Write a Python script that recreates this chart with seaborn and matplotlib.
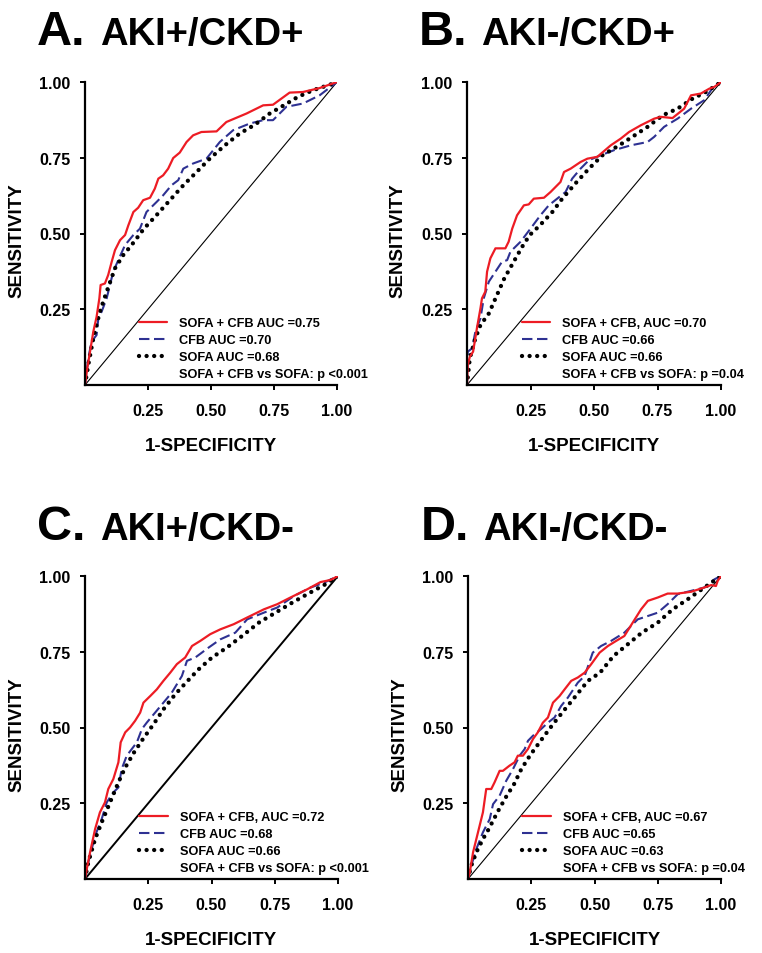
import numpy as np
import pandas as pd
import matplotlib
matplotlib.use("Agg")
import matplotlib.pyplot as plt
from matplotlib.lines import Line2D
import seaborn as sns

# ---- data (x = 1-specificity, y = sensitivity) ----
titles = ["AKI+/CKD+", "AKI-/CKD+", "AKI+/CKD-", "AKI-/CKD-"]
letters = ["A.", "B.", "C.", "D."]

a_red_x = [0, 0.009, 0.020, 0.033, 0.046, 0.057, 0.062, 0.079, 0.092, 0.106, 0.119, 0.139, 0.159, 0.172,
           0.192, 0.211, 0.231, 0.258, 0.277, 0.291, 0.310, 0.330, 0.350, 0.376, 0.403, 0.429, 0.462,
           0.522, 0.561, 0.641, 0.707, 0.746, 0.812, 0.865, 0.931, 1]
a_red_y = [0, 0.055, 0.110, 0.176, 0.225, 0.286, 0.330, 0.335, 0.363, 0.407, 0.445, 0.478, 0.495, 0.527,
           0.571, 0.585, 0.610, 0.618, 0.648, 0.681, 0.692, 0.714, 0.749, 0.767, 0.802, 0.824, 0.835,
           0.837, 0.868, 0.896, 0.923, 0.925, 0.965, 0.967, 0.980, 1]
a_blue_x = [0, 0.013, 0.026, 0.046, 0.053, 0.066, 0.086, 0.112, 0.132, 0.159, 0.192, 0.218, 0.244, 0.284,
            0.310, 0.343, 0.370, 0.390, 0.429, 0.482, 0.535, 0.588, 0.654, 0.707, 0.746, 0.799, 0.865,
            0.931, 1]
a_blue_y = [0, 0.088, 0.143, 0.165, 0.220, 0.242, 0.286, 0.374, 0.412, 0.462, 0.495, 0.516, 0.571, 0.604,
            0.626, 0.659, 0.676, 0.714, 0.731, 0.747, 0.802, 0.841, 0.863, 0.874, 0.874, 0.918, 0.929,
            0.956, 1]
a_blk_x = [0, 0.013, 0.033, 0.059, 0.086, 0.119, 0.152, 0.185, 0.234, 0.281, 0.337, 0.390, 0.443, 0.495,
           0.555, 0.614, 0.674, 0.733, 0.793, 0.845, 0.905, 0.971, 1]
a_blk_y = [0, 0.066, 0.154, 0.242, 0.308, 0.385, 0.429, 0.462, 0.516, 0.558, 0.610, 0.659, 0.703, 0.747,
           0.791, 0.830, 0.859, 0.896, 0.925, 0.951, 0.973, 0.991, 1]

b_red_x = [0, 0.003, 0.011, 0.024, 0.039, 0.053, 0.059, 0.072, 0.079, 0.092, 0.112, 0.151, 0.164, 0.178,
           0.197, 0.224, 0.243, 0.263, 0.303, 0.329, 0.368, 0.382, 0.408, 0.447, 0.474, 0.513, 0.566,
           0.605, 0.638, 0.684, 0.737, 0.763, 0.809, 0.855, 0.882, 0.921, 0.954, 0.974, 1]
b_red_y = [0, 0.066, 0.093, 0.110, 0.187, 0.253, 0.286, 0.308, 0.374, 0.418, 0.451, 0.451, 0.473, 0.516,
           0.560, 0.593, 0.596, 0.615, 0.618, 0.637, 0.670, 0.703, 0.714, 0.736, 0.747, 0.753, 0.791,
           0.813, 0.835, 0.857, 0.879, 0.885, 0.881, 0.912, 0.956, 0.962, 0.978, 0.984, 1]
b_blue_x = [0, 0.003, 0.020, 0.033, 0.053, 0.066, 0.086, 0.112, 0.138, 0.158, 0.171, 0.211, 0.250, 0.289,
            0.322, 0.355, 0.388, 0.414, 0.447, 0.480, 0.526, 0.579, 0.645, 0.711, 0.737, 0.776, 0.829,
            0.882, 0.934, 0.974, 1]
b_blue_y = [0, 0.110, 0.121, 0.176, 0.220, 0.286, 0.341, 0.374, 0.407, 0.412, 0.440, 0.473, 0.516, 0.560,
            0.593, 0.615, 0.637, 0.681, 0.714, 0.742, 0.758, 0.775, 0.791, 0.802, 0.819, 0.852, 0.879,
            0.912, 0.940, 0.989, 1]
b_blk_x = [0, 0.011, 0.033, 0.053, 0.086, 0.118, 0.147, 0.184, 0.217, 0.247, 0.287, 0.336, 0.375, 0.432,
           0.480, 0.533, 0.599, 0.651, 0.711, 0.770, 0.829, 0.888, 0.945, 1]
b_blk_y = [0, 0.088, 0.154, 0.198, 0.236, 0.297, 0.352, 0.407, 0.456, 0.495, 0.527, 0.571, 0.615, 0.670,
           0.714, 0.758, 0.791, 0.819, 0.852, 0.890, 0.912, 0.945, 0.969, 1]

c_red_x = [0, 0.007, 0.020, 0.040, 0.059, 0.079, 0.092, 0.112, 0.132, 0.141, 0.159, 0.178, 0.198, 0.218,
           0.231, 0.258, 0.284, 0.310, 0.337, 0.363, 0.396, 0.423, 0.456, 0.495, 0.535, 0.588, 0.641,
           0.707, 0.760, 0.812, 0.878, 0.931, 0.971, 1]
c_red_y = [0, 0.033, 0.088, 0.165, 0.220, 0.253, 0.297, 0.330, 0.385, 0.451, 0.484, 0.500, 0.522, 0.549,
           0.582, 0.604, 0.626, 0.654, 0.681, 0.709, 0.731, 0.769, 0.786, 0.808, 0.824, 0.841, 0.863,
           0.890, 0.907, 0.929, 0.956, 0.980, 0.987, 1]
c_blue_x = [0, 0.013, 0.040, 0.066, 0.086, 0.112, 0.132, 0.145, 0.165, 0.185, 0.205, 0.225, 0.244, 0.277,
            0.310, 0.343, 0.383, 0.403, 0.436, 0.489, 0.535, 0.594, 0.641, 0.707, 0.760, 0.826, 0.892,
            0.945, 1]
c_blue_y = [0, 0.055, 0.143, 0.198, 0.253, 0.286, 0.302, 0.363, 0.407, 0.429, 0.451, 0.495, 0.516, 0.549,
            0.582, 0.615, 0.670, 0.720, 0.731, 0.764, 0.791, 0.813, 0.857, 0.879, 0.896, 0.934, 0.962,
            0.978, 1]
c_blk_x = [0, 0.013, 0.040, 0.066, 0.099, 0.132, 0.159, 0.194, 0.229, 0.271, 0.310, 0.357, 0.399, 0.449,
           0.502, 0.561, 0.621, 0.687, 0.753, 0.819, 0.885, 0.951, 1]
c_blk_y = [0, 0.055, 0.132, 0.187, 0.253, 0.319, 0.368, 0.418, 0.462, 0.511, 0.560, 0.610, 0.648, 0.692,
           0.731, 0.764, 0.802, 0.846, 0.879, 0.912, 0.943, 0.973, 1]

d_red_x = [0, 0.007, 0.020, 0.033, 0.046, 0.059, 0.072, 0.092, 0.105, 0.125, 0.138, 0.164, 0.184, 0.197,
           0.217, 0.237, 0.257, 0.276, 0.296, 0.316, 0.336, 0.362, 0.382, 0.408, 0.434, 0.461, 0.487,
           0.520, 0.553, 0.586, 0.618, 0.651, 0.684, 0.711, 0.750, 0.789, 0.829, 0.882, 0.934, 0.961,
           0.980, 0.987, 1]
d_red_y = [0, 0.022, 0.088, 0.132, 0.176, 0.220, 0.297, 0.297, 0.319, 0.357, 0.357, 0.374, 0.385, 0.407,
           0.407, 0.429, 0.462, 0.484, 0.516, 0.533, 0.582, 0.604, 0.626, 0.654, 0.665, 0.681, 0.709,
           0.747, 0.769, 0.786, 0.802, 0.846, 0.890, 0.918, 0.929, 0.942, 0.942, 0.948, 0.962, 0.970,
           0.967, 0.984, 1]
d_blue_x = [0, 0.013, 0.033, 0.059, 0.086, 0.099, 0.125, 0.151, 0.178, 0.204, 0.224, 0.237, 0.257, 0.289,
            0.316, 0.342, 0.368, 0.395, 0.434, 0.461, 0.493, 0.526, 0.566, 0.618, 0.671, 0.711, 0.750,
            0.789, 0.829, 0.882, 0.934, 0.974, 1]
d_blue_y = [0, 0.044, 0.099, 0.154, 0.198, 0.247, 0.275, 0.324, 0.363, 0.407, 0.429, 0.456, 0.473, 0.495,
            0.516, 0.533, 0.571, 0.599, 0.648, 0.670, 0.747, 0.769, 0.786, 0.813, 0.857, 0.868, 0.879,
            0.907, 0.940, 0.951, 0.962, 0.989, 1]
d_blk_x = [0, 0.013, 0.033, 0.059, 0.082, 0.116, 0.149, 0.182, 0.211, 0.246, 0.287, 0.336, 0.378, 0.421,
           0.474, 0.522, 0.575, 0.632, 0.687, 0.750, 0.809, 0.868, 0.924, 1]
d_blk_y = [0, 0.044, 0.088, 0.132, 0.165, 0.220, 0.269, 0.313, 0.363, 0.409, 0.456, 0.511, 0.555, 0.599,
           0.654, 0.681, 0.736, 0.775, 0.813, 0.846, 0.890, 0.923, 0.956, 1]

legend_labels = [
    ["SOFA + CFB AUC =0.75", "CFB AUC =0.70", "SOFA AUC =0.68", "SOFA + CFB vs SOFA: p <0.001"],
    ["SOFA + CFB, AUC =0.70", "CFB AUC =0.66", "SOFA AUC =0.66", "SOFA + CFB vs SOFA: p =0.04"],
    ["SOFA + CFB, AUC =0.72", "CFB AUC =0.68", "SOFA AUC =0.66", "SOFA + CFB vs SOFA: p <0.001"],
    ["SOFA + CFB, AUC =0.67", "CFB AUC =0.65", "SOFA AUC =0.63", "SOFA + CFB vs SOFA: p =0.04"],
]
ticks = [0.25, 0.50, 0.75, 1.00]
tick_labels = ["0.25", "0.50", "0.75", "1.00"]

curves = [
    (a_red_x, a_red_y, a_blue_x, a_blue_y, a_blk_x, a_blk_y),
    (b_red_x, b_red_y, b_blue_x, b_blue_y, b_blk_x, b_blk_y),
    (c_red_x, c_red_y, c_blue_x, c_blue_y, c_blk_x, c_blk_y),
    (d_red_x, d_red_y, d_blue_x, d_blue_y, d_blk_x, d_blk_y),
]
diag_lw = [0.8, 0.8, 1.4, 0.8]

RED = "#ED1C24"
BLUE = "#2E3192"

sns.set_style("ticks")
plt.rcParams['font.family'] = ['Liberation Sans', 'DejaVu Sans']
plt.rcParams['text.color'] = 'black'
plt.rcParams['axes.labelcolor'] = 'black'
plt.rcParams['xtick.color'] = 'black'
plt.rcParams['ytick.color'] = 'black'

fig = plt.figure(figsize=(7.62, 9.54), dpi=100)
W, H = 762, 954
# axes boxes in pixels: left, top, right, bottom
boxes = [(85, 83, 337, 386), (467, 83, 721, 386), (85, 577, 338, 880), (468, 577, 721, 880)]
# title positions in pixels: letter x, group x, baseline y
title_pos = [(37, 100, 45), (419, 481, 45), (37, 100, 540), (421, 483, 540)]

red_style = dict(color=RED, lw=1.6, ls="-")
blue_style = dict(color=BLUE, lw=1.5, ls=(0, (5, 2.2)))
blk_style = dict(color="black", lw=3.1, ls=(0, (0.01, 1.75)), dash_capstyle="round")

for i in range(4):
    l, t, r, b = boxes[i]
    ax = fig.add_axes([l / W, 1 - b / H, (r - l) / W, (b - t) / H])
    rx, ry, bx, by, kx, ky = curves[i]

    ax.plot([0, 1], [0, 1], color="black", lw=diag_lw[i])
    sns.lineplot(x=bx, y=by, ax=ax, sort=False, estimator=None, **blue_style)
    sns.lineplot(x=kx, y=ky, ax=ax, sort=False, estimator=None, **blk_style)
    sns.lineplot(x=rx, y=ry, ax=ax, sort=False, estimator=None, **red_style)

    ax.set_xlim(0, 1)
    ax.set_ylim(0, 1)
    ax.set_xticks(ticks)
    ax.set_xticklabels(tick_labels)
    ax.set_yticks(ticks)
    ax.set_yticklabels(tick_labels)
    for sp in ["top", "right"]:
        ax.spines[sp].set_visible(False)
    for sp in ["left", "bottom"]:
        ax.spines[sp].set_linewidth(1.6)
        ax.spines[sp].set_color("black")
    ax.tick_params(axis="both", length=3.5, width=1.4, color="black",
                   labelsize=11.5, labelcolor="black")
    ax.tick_params(axis="x", pad=9.5)
    ax.tick_params(axis="y", pad=7)
    for lab in ax.get_xticklabels() + ax.get_yticklabels():
        lab.set_fontweight("bold")

    ax.set_xlabel("1-SPECIFICITY", fontsize=13.5, fontweight="bold")
    ax.set_ylabel("SENSITIVITY", fontsize=13.5, fontweight="bold")
    ax.xaxis.set_label_coords(0.5, -0.17)
    ax.yaxis.set_label_coords(-0.237, 0.48)

    handles = [Line2D([], [], **red_style), Line2D([], [], **blue_style),
               Line2D([], [], **blk_style), Line2D([], [], ls="none")]
    ax.legend(handles, legend_labels[i], loc="lower left", bbox_to_anchor=(0.215, 0.015),
              frameon=False, handlelength=2.2, handletextpad=0.95,
              labelspacing=0.4, borderpad=0, borderaxespad=0,
              prop={"size": 9.2, "weight": "bold"})

    lx, gx, by_ = title_pos[i]
    fig.text(lx / W, 1 - by_ / H, letters[i], fontsize=35, fontweight="bold", va="baseline")
    fig.text(gx / W, 1 - by_ / H, titles[i], fontsize=27.5, fontweight="bold", va="baseline")

fig.savefig("out.png", dpi=100)
